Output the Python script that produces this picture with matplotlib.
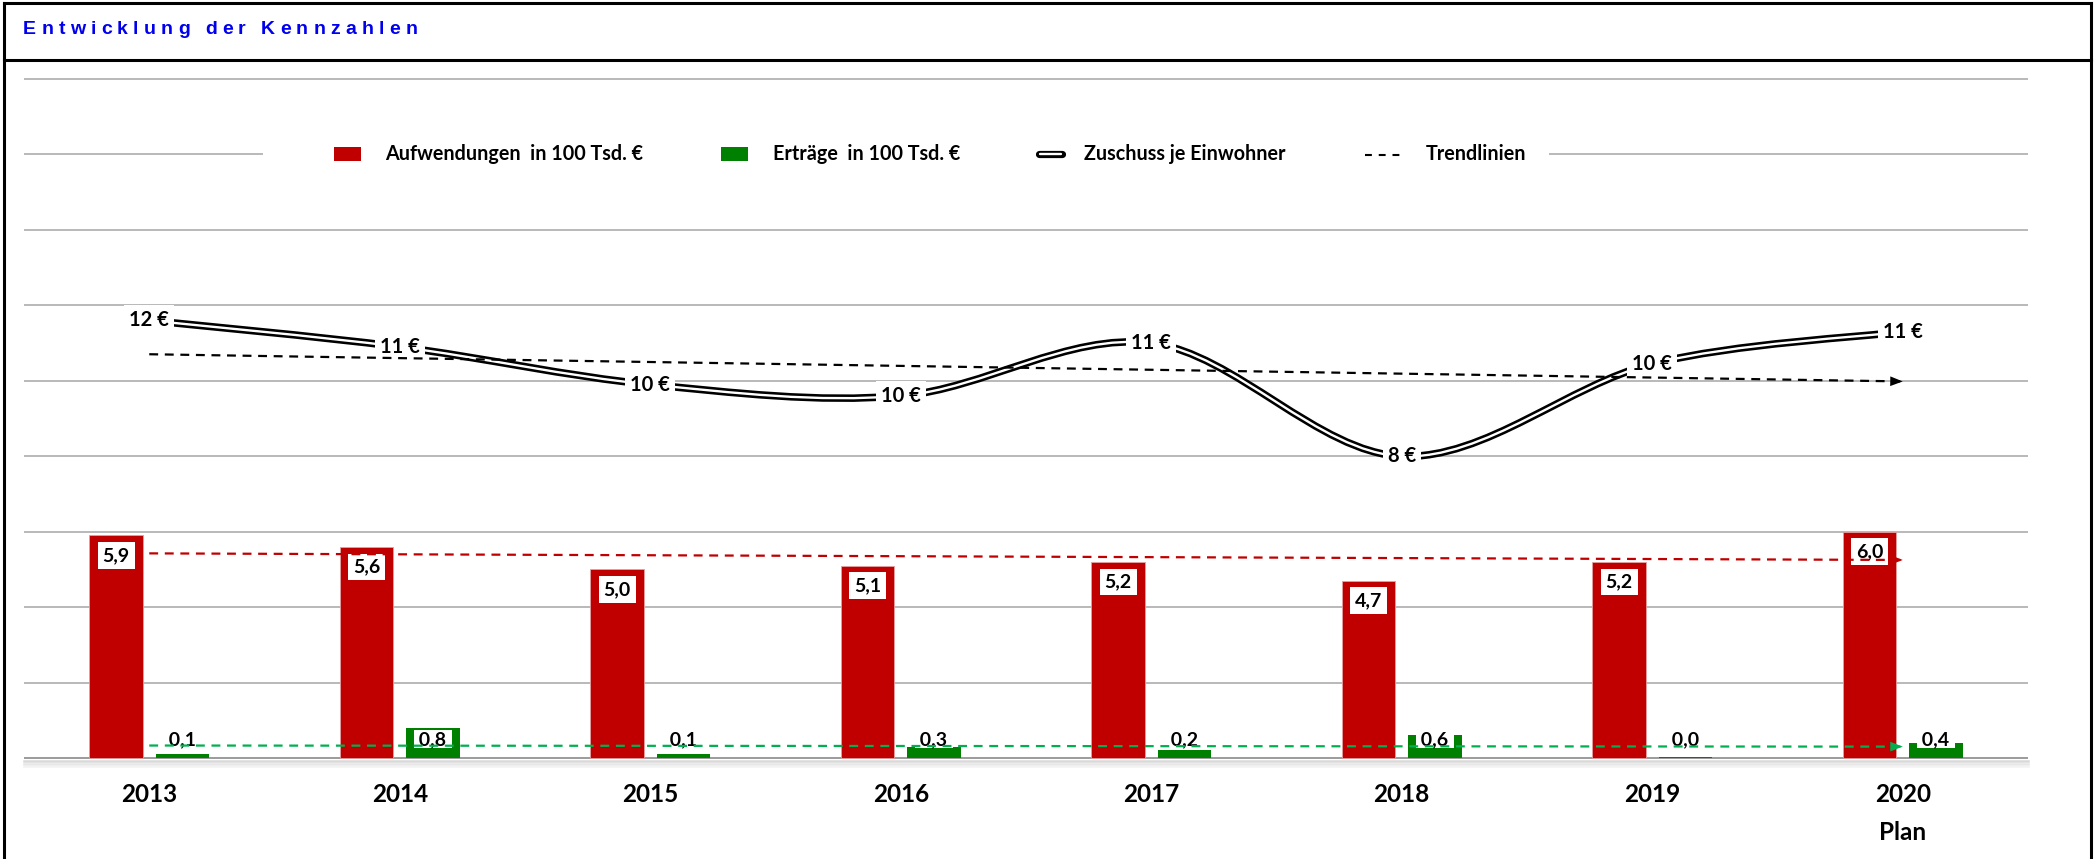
import numpy as np
import matplotlib
matplotlib.use("Agg")
import matplotlib.pyplot as plt
from matplotlib.path import Path
from matplotlib.patches import PathPatch, Rectangle
from matplotlib.lines import Line2D

# data
jahre = ["2013", "2014", "2015", "2016", "2017", "2018", "2019", "2020\nPlan"]
aufwendungen = [5.9, 5.6, 5.0, 5.1, 5.2, 4.7, 5.2, 6.0]      # in 100 Tsd. €
ertraege = [0.1, 0.8, 0.1, 0.3, 0.2, 0.6, 0.03, 0.4]         # in 100 Tsd. €
zuschuss = [11.6, 10.9, 9.9, 9.6, 11.0, 8.0, 10.45, 11.3]    # € je Einwohner

RED = "#C00000"
GREEN = "#008000"
GREEN_TREND = "#00B050"
GRID = "#A6A6A6"
FONT = "Lato"

W, H = 2094, 859
fig = plt.figure(figsize=(W / 100, H / 100), dpi=100)
fig.patch.set_facecolor("white")


def fx(px):
    return px / W


def fy(py):
    return 1 - py / H


# axes placed in pixel terms
px_per_unit = 37.72
base_px = 758
ymin, ymax = -0.1, 18.1
ax_bottom = base_px - ymin * px_per_unit
ax_top = base_px - ymax * px_per_unit
ax = fig.add_axes([fx(24), fy(ax_bottom), (2028 - 24) / W, (ax_bottom - ax_top) / H])

x = np.arange(len(jahre))
bw = 0.214
off = 0.132

ax.bar(x - off, aufwendungen, bw, color=RED, edgecolor="#E4A0A0", lw=0.6, zorder=2)
ax.bar(x + off, ertraege, bw, color=GREEN, zorder=2)

# bar labels
for xi, v in zip(x, aufwendungen):
    ax.annotate(f"{v:.1f}".replace(".", ","), (xi - off, v), xytext=(0, -14.5),
                textcoords="offset points", ha="center", va="center",
                family=FONT, weight="bold", fontsize=14, zorder=4,
                bbox=dict(boxstyle="square,pad=0.25", fc="white", ec="none"))
for xi, v in zip(x, ertraege):
    ax.annotate(" " + f"{v:.1f}".replace(".", ",") + " ", (xi + off, 0), xytext=(0, 13.5),
                textcoords="offset points", ha="center", va="center",
                family=FONT, weight="bold", fontsize=14, zorder=4,
                bbox=dict(boxstyle="square,pad=0.02", fc="white", ec="none"))

# smoothed double line (Zuschuss je Einwohner)
pts = np.column_stack([x, zuschuss]).astype(float)
n = len(pts)
verts = [pts[0]]
codes = [Path.MOVETO]
for i in range(n - 1):
    p0 = pts[max(i - 1, 0)]
    p1 = pts[i]
    p2 = pts[i + 1]
    p3 = pts[min(i + 2, n - 1)]
    verts += [p1 + (p2 - p0) / 6, p2 - (p3 - p1) / 6, p2]
    codes += [Path.CURVE4] * 3
zpath = Path(verts, codes)
ax.add_patch(PathPatch(zpath, fill=False, ec="black", lw=5.4, zorder=3))
ax.add_patch(PathPatch(zpath, fill=False, ec="white", lw=1.7, zorder=3.1))

for xi, v in zip(x, zuschuss):
    ax.annotate(f"{v:.0f} €", (xi, v), ha="center", va="center",
                family=FONT, weight="bold", fontsize=14.5, zorder=4,
                bbox=dict(boxstyle="square,pad=0.25", fc="white", ec="none"))


# trend lines (linear fit, like Excel)
def trend(vals, color, lw):
    k, d = np.polyfit(x, vals, 1)
    xs = np.array([x[0], x[-1]], dtype=float)
    ys = k * xs + d
    ax.plot(xs, ys, ls=(0, (4, 3)), color=color, lw=lw, zorder=5)
    ax.annotate("", xy=(xs[1], ys[1]), xytext=(xs[1] - 0.05, ys[1] - k * 0.05),
                arrowprops=dict(arrowstyle="-|>,head_length=0.9,head_width=0.35",
                                color=color, lw=0, shrinkA=0, shrinkB=0), zorder=5)


trend(zuschuss, "black", 1.6)
trend(aufwendungen, RED, 1.6)
trend(ertraege, GREEN_TREND, 1.6)

ax.set_xlim(-0.5, 7.5)
ax.set_ylim(ymin, ymax)
ax.set_yticks(range(0, 19, 2))
ax.set_yticklabels([])
ax.tick_params(axis="y", length=0)
ax.grid(axis="y", color=GRID, lw=1.1)
ax.set_axisbelow(True)
ax.axhline(0, color="#9A9A9A", lw=1.3, zorder=1.5)
for s in ax.spines.values():
    s.set_visible(False)
ax.set_xticks(x, jahre, family=FONT, weight="bold", fontsize=17.5, linespacing=1.8)
ax.tick_params(axis="x", length=0, pad=15)

# shadow under the baseline
for yy, c in [(761, "#D9D9D9"), (763.5, "#E6E6E6"), (766, "#F2F2F2")]:
    fig.add_artist(Line2D([fx(24), fx(2028)], [fy(yy), fy(yy)], color=c, lw=1.8, zorder=1))

# legend (drawn by hand, with white background over the gridline)
fig.add_artist(Rectangle((fx(263), fy(170)), fx(1549) - fx(263), fy(140) - fy(170),
                         transform=fig.transFigure, fc="white", ec="none", zorder=1))
leg_y = 154
leg_kw = dict(family=FONT, weight="bold", fontsize=14.2, va="center", ha="left", zorder=2)
fig.add_artist(Rectangle((fx(334), fy(161)), fx(361) - fx(334), fy(147) - fy(161),
                         transform=fig.transFigure, fc=RED, ec="none", zorder=2))
fig.text(fx(385), fy(leg_y), "Aufwendungen  in 100 Tsd. €", **leg_kw)
fig.add_artist(Rectangle((fx(721), fy(161)), fx(748) - fx(721), fy(147) - fy(161),
                         transform=fig.transFigure, fc=GREEN, ec="none", zorder=2))
fig.text(fx(773), fy(leg_y), "Erträge  in 100 Tsd. €", **leg_kw)
fig.add_artist(Line2D([fx(1039), fx(1062)], [fy(154), fy(154)], color="black", lw=5.2,
                      solid_capstyle="round", zorder=2))
fig.add_artist(Line2D([fx(1040), fx(1061)], [fy(154), fy(154)], color="white", lw=1.7,
                      solid_capstyle="round", zorder=2.1))
fig.text(fx(1084), fy(leg_y), "Zuschuss je Einwohner", **leg_kw)
dash = Line2D([fx(1365), fx(1400)], [fy(155), fy(155)], color="black", lw=1.5, zorder=2)
dash.set_dashes((3.3, 3.3))
fig.add_artist(dash)
fig.text(fx(1426), fy(leg_y), "Trendlinien", **leg_kw)

# frame and title band
frame = dict(color="black", lw=2.2, zorder=3)
fig.add_artist(Line2D([fx(4), fx(2091)], [fy(3), fy(3)], **frame))
fig.add_artist(Line2D([fx(4), fx(2091)], [fy(60), fy(60)], **frame))
fig.add_artist(Line2D([fx(4), fx(4)], [fy(3), 0], **frame))
fig.add_artist(Line2D([fx(2091), fx(2091)], [fy(3), 0], **frame))

# letter-spaced title
title = "Entwicklung der Kennzahlen"
renderer = fig.canvas.get_renderer()
cx = 23
for ch in title:
    if ch == " ":
        cx += 10
        continue
    t = fig.text(fx(cx), fy(29), ch, family="Liberation Sans", weight="bold",
                 fontsize=14, color="#0000EE", ha="left", va="center")
    cx += t.get_window_extent(renderer).width + 5.2

fig.savefig("out.png", dpi=100, facecolor="white")
